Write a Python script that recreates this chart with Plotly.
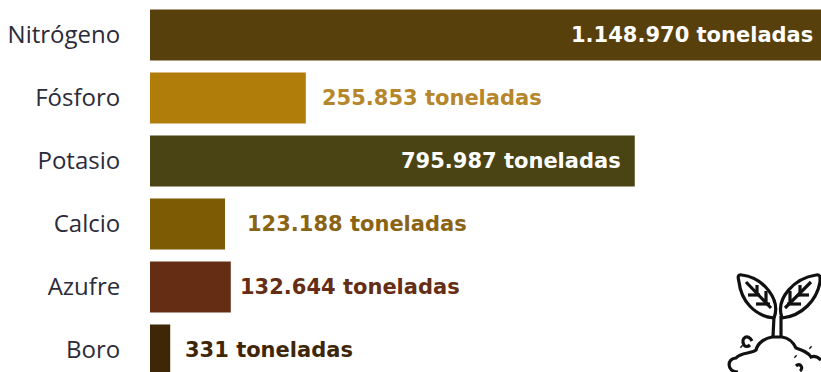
import plotly.graph_objects as go

# Fertilizer use by nutrient, in tonnes
nutrients = ["Nitrógeno", "Fósforo", "Potasio", "Calcio", "Azufre", "Boro"]
tonnes = [1148970, 255853, 795987, 123188, 132644, 331]
bar_colors = ["#58400C", "#B07D0A", "#4A4314", "#7D5A04", "#652D14", "#3F2606"]
label_colors = ["#FFFFFF", "#B5862A", "#FFFFFF", "#8A6414", "#652D14", "#3F2606"]
label_inside = [True, False, True, False, False, False]
label_gaps = [6, 14, 12, 20, 7, 33]

# Boron is too small to see on this scale, so a thick outline gives it a stub;
# its thinner bar keeps the outlined height equal to the other bars.
outline_widths = [0, 0, 0, 0, 0, 40]
bar_widths = [0.81, 0.81, 0.81, 0.81, 0.81, 0.175]

X_MAX = 1101800
INK = "#111111"


def tonnes_text(value):
    return f"{value:,}".replace(",", ".") + " toneladas"


fig = go.Figure(
    go.Bar(
        x=tonnes,
        y=nutrients,
        orientation="h",
        width=bar_widths,
        marker=dict(
            color=bar_colors,
            line=dict(color=bar_colors, width=outline_widths),
        ),
        hoverinfo="skip",
    )
)

for name, value, color, inside, gap in zip(
    nutrients, tonnes, label_colors, label_inside, label_gaps
):
    fig.add_annotation(
        x=min(value, X_MAX),
        y=name,
        text=tonnes_text(value),
        showarrow=False,
        xanchor="right" if inside else "left",
        xshift=-gap if inside else gap,
        font=dict(family="DejaVu Sans", size=21, color=color, weight="bold"),
    )


def icon_path(commands):
    # Icon outlines are written from the lower right corner of the page, upward.
    out = []
    for item in commands:
        if isinstance(item, str):
            out.append(item)
        else:
            out.append(f"{item[0] - 821},{372 - item[1]}")
    return " ".join(out)


def add_icon_stroke(commands, width=3.2):
    fig.add_shape(
        type="path",
        xref="paper",
        yref="paper",
        xsizemode="pixel",
        ysizemode="pixel",
        xanchor=1,
        yanchor=0,
        path=icon_path(commands),
        line=dict(color=INK, width=width),
        fillcolor="rgba(0,0,0,0)",
        layer="above",
    )


# Left leaf
add_icon_stroke(["M", (774, 318), "C", (781, 300), (764, 278), (742, 275),
                 "C", (737, 274), (738, 278), (739, 282),
                 "C", (741, 300), (754, 316), (774, 318)])
add_icon_stroke(["M", (746, 282), "L", (771, 308)])
add_icon_stroke(["M", (757, 285), "L", (757, 295)])
add_icon_stroke(["M", (748, 295), "L", (760, 295)])
add_icon_stroke(["M", (766, 291), "L", (766, 303)])
add_icon_stroke(["M", (756, 304), "L", (770, 304)])

# Right leaf
add_icon_stroke(["M", (782, 318), "C", (775, 298), (795, 278), (816, 275),
                 "C", (821, 274), (820, 278), (820, 282),
                 "C", (817, 300), (802, 316), (782, 318)])
add_icon_stroke(["M", (811, 282), "L", (785, 308)])
add_icon_stroke(["M", (800, 285), "L", (800, 295)])
add_icon_stroke(["M", (798, 295), "L", (809, 295)])
add_icon_stroke(["M", (790, 291), "L", (790, 303)])
add_icon_stroke(["M", (787, 304), "L", (801, 304)])

# Stem
add_icon_stroke(["M", (774, 316), "L", (773, 337)])
add_icon_stroke(["M", (781, 316), "L", (781, 337)])

# Soil mound
add_icon_stroke(["M", (738, 372), "C", (726, 372), (727, 358), (736, 358),
                 "C", (741, 352), (751, 354), (756, 350),
                 "C", (758, 342), (766, 338), (772, 337),
                 "L", (782, 337),
                 "C", (790, 338), (794, 344), (796, 348),
                 "C", (802, 350), (808, 352), (811, 357),
                 "C", (815, 355), (819, 358), (821, 360)])

# Pebbles and grains in and above the soil
add_icon_stroke(["M", (752, 341), "C", (748, 333), (740, 338), (744, 345),
                 "C", (745, 347), (748, 347), (750, 345)])
add_icon_stroke(["M", (741, 346), "L", (742, 347)])
add_icon_stroke(["M", (798, 334), "A", "5,5 0 1 1", (798, 345),
                 "A", "5,5 0 1 1", (798, 334), "Z"])
add_icon_stroke(["M", (784, 355), "A", "4,4 0 1 1", (784, 366),
                 "A", "4,4 0 1 1", (784, 355), "Z"])
add_icon_stroke(["M", (796, 366), "C", (800, 362), (804, 368), (800, 371)])
add_icon_stroke(["M", (810, 347), "L", (811, 348)])
add_icon_stroke(["M", (795, 356), "L", (796, 357)])

fig.update_layout(
    width=821,
    height=372,
    margin=dict(l=150, r=0, t=0, b=0),
    paper_bgcolor="#FFFFFF",
    plot_bgcolor="#FFFFFF",
    showlegend=False,
    xaxis=dict(
        range=[0, X_MAX],
        visible=False,
        fixedrange=True,
    ),
    yaxis=dict(
        type="category",
        categoryorder="array",
        categoryarray=nutrients,
        range=[5.35, -0.556],
        showgrid=False,
        zeroline=False,
        showline=False,
        ticks="outside",
        ticklen=24,
        tickcolor="rgba(0,0,0,0)",
        tickfont=dict(family="Open Sans", size=24, color="#2B2B3A"),
        fixedrange=True,
    ),
)

fig.write_html("out.html", config={"displayModeBar": False})
